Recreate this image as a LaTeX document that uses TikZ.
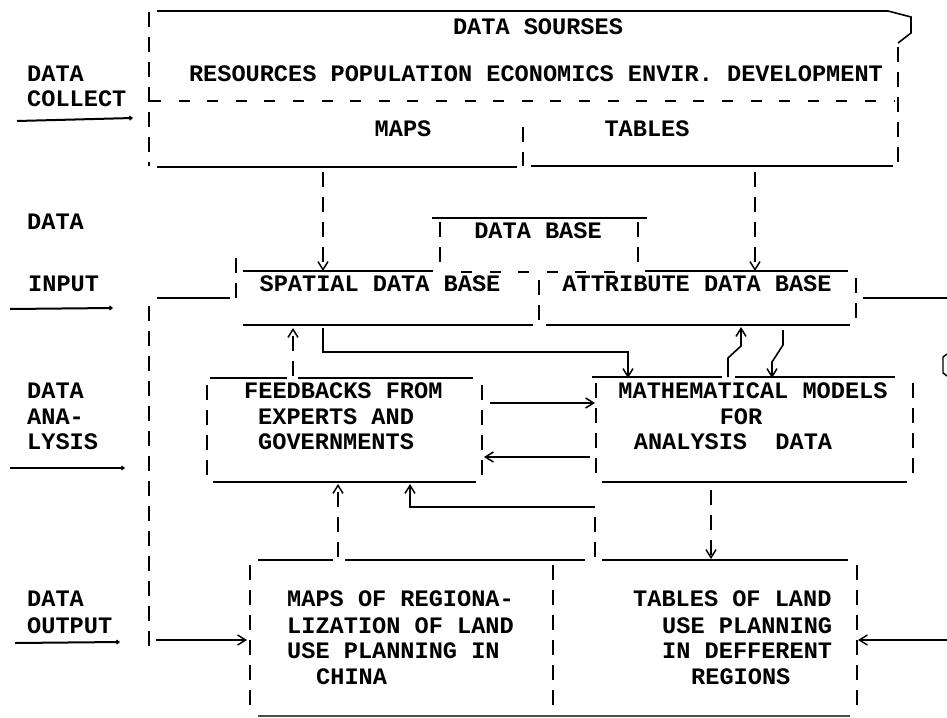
\documentclass[tikz,border=0pt]{standalone}
\usepackage{fontspec}
\setmonofont{Liberation Mono}
\usetikzlibrary{arrows.meta}
\tikzset{
  tw/.style={font=\ttfamily\bfseries\fontsize{23.6}{25}\selectfont, inner sep=0pt, text height=13.4pt, text depth=0pt},
  sl/.style={line width=1.6pt},
  pipe/.style={line width=1.9pt, dash pattern=on 15pt off 10pt},
  hdash/.style={line width=1.6pt, dash pattern=on 11pt off 17.6pt},
  tipV/.style={-{Straight Barb[length=8pt,width=10pt,line width=1.5pt]}},
  ul/.style={line width=2pt, -{Straight Barb[length=2.5pt,width=4pt,line width=1.2pt]}},
}
\begin{document}
\begin{tikzpicture}[x=1pt,y=-1pt]
\useasboundingbox (0,0) rectangle (947,717);
\fill[white] (0,0) rectangle (947,717);

% ---------- left labels ----------
\node[tw,anchor=west] (lc1) at (27,75) {DATA};
\node[tw,anchor=west] (lc2) at (27,100) {COLLECT};
\draw[ul] (17,121) -- (133,118);
\node[tw,anchor=west] (li1) at (27,223) {DATA};
\node[tw,anchor=west] (li2) at (28,285) {INPUT};
\draw[ul] (10,309) -- (113,308);
\node[tw,anchor=west] (la1) at (27,392) {DATA};
\node[tw,anchor=west] (la2) at (27,418) {ANA-};
\node[tw,anchor=west] (la3) at (27,443) {LYSIS};
\draw[ul] (10,468) -- (125,468);
\node[tw,anchor=west] (lo1) at (27,600) {DATA};
\node[tw,anchor=west] (lo2) at (27,627) {OUTPUT};
\draw[ul] (15,643) -- (120,642);

% ---------- DATA SOURSES box ----------
\draw[sl] (157,11) -- (888,11) -- (911,17) -- (911,33) -- (898,43);
\draw[pipe] (898,47) -- (898,166);
\draw[pipe] (149,12) -- (149,166);
\draw[hdash] (150,101) -- (894,101);
\draw[sl] (157,167) -- (517,167);
\draw[pipe] (523,127) -- (523,166);
\draw[sl] (531,166) -- (893,166);
\node[tw] (src) at (538,28) {DATA SOURSES};
\node[tw] (cats) at (536,75) {RESOURCES POPULATION ECONOMICS ENVIR. DEVELOPMENT};
\node[tw] (maps) at (403,130) {MAPS};
\node[tw] (tabs) at (647,130) {TABLES};

\coordinate (mapsout) at (323,172);
\coordinate (spin) at (323,271);
\coordinate (tabsout) at (755,172);
\coordinate (atin) at (755,271);
\draw[pipe,tipV] (mapsout) -- (spin);
\draw[pipe,tipV] (tabsout) -- (atin);

% ---------- DATA BASE ----------
\draw[sl] (432,218) -- (647,218);
\draw[pipe] (440,222) -- (440,270);
\draw[pipe] (638,222) -- (638,270);
\node[tw] (db) at (538,232) {DATA BASE};

% ---------- spatial / attribute ----------
\draw[sl] (243,271) -- (433,271);
\draw[hdash] (461,272) -- (632,272);
\draw[sl] (645,271) -- (848,271);
\draw[pipe] (236,258) -- (236,304);
\draw[pipe] (539,280) -- (539,322);
\draw[pipe] (856,278) -- (856,320);
\draw[sl] (243,325) -- (533,325);
\draw[sl] (546,325) -- (850,325);
\node[tw] (sdb) at (380,285) {SPATIAL DATA BASE};
\node[tw] (adb) at (697,285) {ATTRIBUTE DATA BASE};

% side lines
\draw[sl] (157,298) -- (230,298);
\draw[pipe] (149,306) -- (149,652);
\coordinate (lstart) at (156,640);
\coordinate (mapsin) at (247,640);
\draw[sl,tipV] (lstart) -- (mapsin);
\draw[sl] (863,298) -- (947,298);
\coordinate (rstart) at (947,640);
\coordinate (tabin) at (858,640);
\draw[sl,tipV] (rstart) -- (tabin);
\draw[line width=1.4pt] (947,354) -- (943,357) -- (943,373) -- (947,376);

% ---------- FEEDBACKS box ----------
\draw[sl] (210,378) -- (287,378);
\draw[sl] (298,378) -- (473,378);
\draw[pipe] (207,385) -- (207,481);
\draw[pipe] (482,385) -- (482,481);
\draw[sl] (213,482) -- (476,482);
\node[tw,anchor=west] (fb1) at (244,392) {FEEDBACKS FROM};
\node[tw,anchor=west] (fb2) at (258,418) {EXPERTS AND};
\node[tw,anchor=west] (fb3) at (258,443) {GOVERNMENTS};

\coordinate (fbup) at (293,376);
\coordinate (spbot) at (293,328);
\draw[pipe,tipV] (fbup) -- (spbot);

\coordinate (sp2) at (323,328);
\coordinate (mmtop1) at (628,378);
\draw[sl,tipV] (sp2) -- (323,352) -- (628,352) -- (mmtop1);

% feedback <-> models
\draw[sl,tipV] (490,403) -- (595,403);
\draw[sl,tipV] (590,457) -- (484,457);

% ---------- MODELS box ----------
\draw[sl] (592,377) -- (722,377);
\draw[sl] (735,377) -- (895,377);
\draw[pipe] (596,383) -- (596,480);
\draw[pipe] (913,383) -- (913,478);
\draw[sl] (602,482) -- (907,482);
\node[tw] (mm1) at (753,392) {MATHEMATICAL MODELS};
\node[tw] (mm2) at (741,418) {FOR};
\node[tw] (mm3) at (733,443) {ANALYSIS\ \ DATA};

\draw[sl,tipV] (728,377) -- (728,358) -- (741,346) -- (741,327);
\draw[sl,tipV] (783,330) -- (783,345) -- (772,362) -- (772,378);

% ---------- links below ----------
\coordinate (mapstop) at (338,557);
\coordinate (fbbot1) at (338,484);
\draw[pipe,tipV] (mapstop) -- (fbbot1);
\coordinate (jn) at (595,557);
\coordinate (fbbot2) at (410,484);
\draw[pipe] (jn) -- (595,509);
\draw[sl,tipV] (595,507) -- (410,507) -- (fbbot2);
\coordinate (mmbot) at (711,490);
\coordinate (tabtop) at (711,559);
\draw[pipe,tipV] (mmbot) -- (tabtop);

% ---------- output boxes ----------
\draw[sl] (258,560) -- (333,560);
\draw[sl] (345,560) -- (585,560);
\draw[sl] (602,560) -- (848,560);
\draw[pipe] (250,565) -- (250,714);
\draw[pipe] (553,565) -- (553,714);
\draw[pipe] (857,565) -- (857,714);
\draw[line width=1.2pt, black!70] (258,716) -- (850,716);

\node[tw,anchor=west] (mo1) at (287,600) {MAPS OF REGIONA-};
\node[tw,anchor=west] (mo2) at (287,627) {LIZATION OF LAND};
\node[tw,anchor=west] (mo3) at (287,652) {USE PLANNING IN};
\node[tw,anchor=west] (mo4) at (316,678) {CHINA};

\node[tw,anchor=west] (to1) at (633,600) {TABLES OF LAND};
\node[tw,anchor=west] (to2) at (662,627) {USE PLANNING};
\node[tw,anchor=west] (to3) at (662,652) {IN DEFFERENT};
\node[tw,anchor=west] (to4) at (691,678) {REGIONS};
\end{tikzpicture}
\end{document}
